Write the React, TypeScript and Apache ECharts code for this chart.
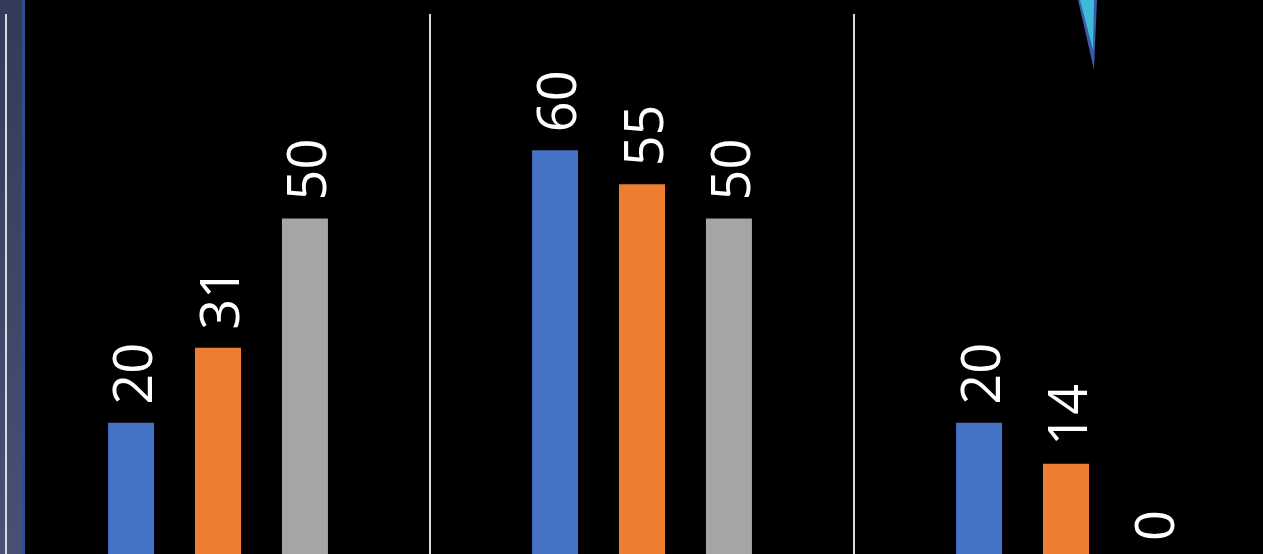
import React, { useEffect, useRef } from "react";
import * as echarts from "echarts";

const categories = ["A", "B", "C"];
const series1 = [20, 60, 20];
const series2 = [31, 55, 14];
const series3 = [50, 50, 0];
const seriesNames = ["Series 1", "Series 2", "Series 3"];
const colors = ["#4472c4", "#ed7d31", "#a5a5a5"];

export default function App() {
  const ref = useRef<HTMLDivElement>(null);
  useEffect(() => {
    if (!ref.current) return;
    const chart = echarts.init(ref.current, null, { renderer: "svg" });
    const label = {
      show: true,
      position: "top",
      rotate: 90,
      align: "left",
      verticalAlign: "middle",
      distance: 18,
      color: "#ffffff",
      fontSize: 54,
      fontFamily: "Open Sans",
    };
    const data = [series1, series2, series3];
    chart.setOption({
      animation: false,
      backgroundColor: "#000000",
      grid: { left: 6, top: 14, width: 1272, height: 545 },
      xAxis: {
        type: "category",
        data: categories,
        axisLine: { show: false },
        axisTick: { show: false },
        axisLabel: { show: false },
        splitLine: { show: true, lineStyle: { color: "#d9d9d9", width: 2 } },
      },
      yAxis: {
        type: "value",
        min: 0,
        max: 80,
        show: false,
        splitLine: { show: false },
      },
      graphic: [
        {
          type: "rect",
          z: -10,
          shape: { x: 0, y: 0, width: 22, height: 600 },
          style: {
            fill: new echarts.graphic.LinearGradient(0, 0, 0, 1, [
              { offset: 0, color: "#313b59" },
              { offset: 1, color: "#495377" },
            ]),
          },
        },
        {
          type: "rect",
          z: -10,
          shape: { x: 22, y: 0, width: 3, height: 600 },
          style: { fill: "#2d4f8e" },
        },
        {
          type: "polygon",
          z: 10,
          shape: { points: [[1078, 0], [1097, 0], [1094, 70]] },
          style: { fill: "#3a5aa6" },
        },
        {
          type: "polygon",
          z: 11,
          shape: { points: [[1080, 0], [1094, 0], [1093, 50]] },
          style: { fill: "#3dbbd8" },
        },
      ],
      series: data.map((d, i) => ({
        type: "bar",
        name: seriesNames[i],
        data: d,
        barWidth: 46,
        barGap: "89%",
        itemStyle: { color: colors[i] },
        label,
      })),
    });
    return () => chart.dispose();
  }, []);
  return (
    <div
      style={{
        position: "fixed",
        left: 0,
        top: 0,
        width: 1263,
        height: 554,
        overflow: "hidden",
        background: "#000",
      }}
    >
      <div ref={ref} style={{ width: 1300, height: 600 }} />
    </div>
  );
}
